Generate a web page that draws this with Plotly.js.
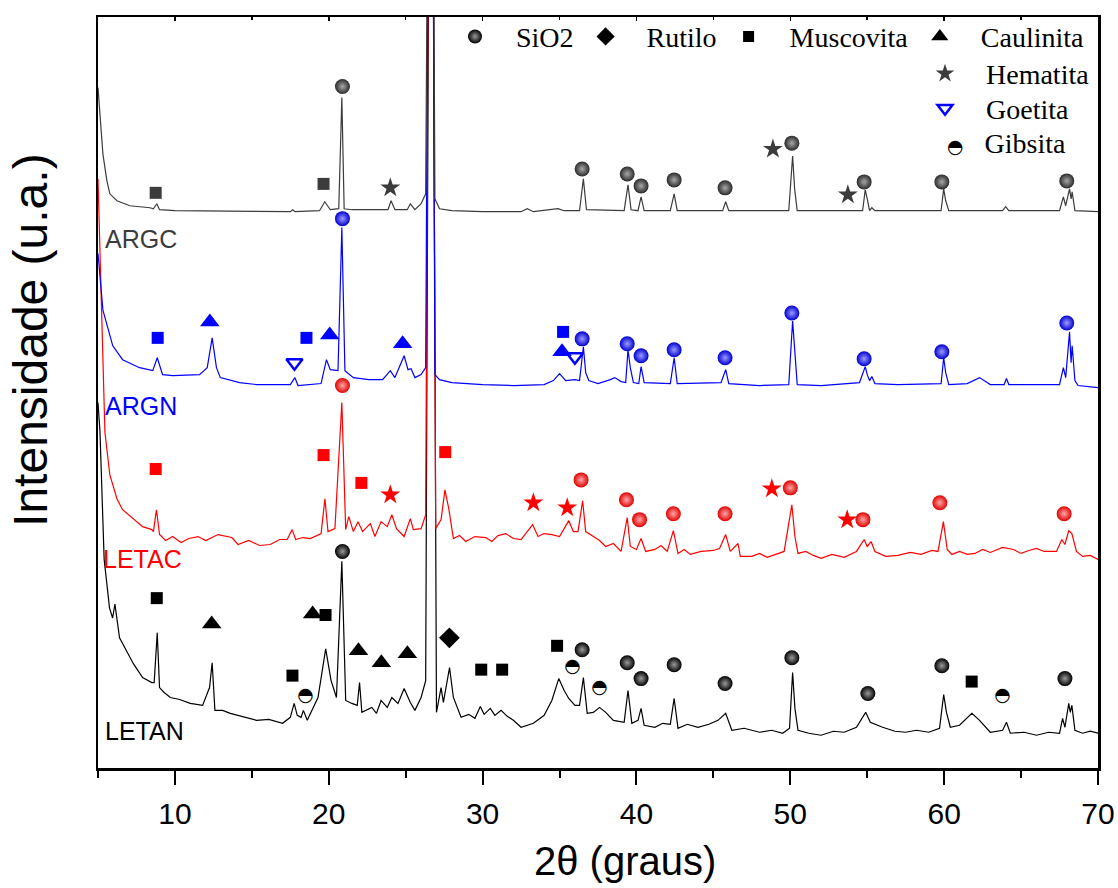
<!DOCTYPE html>
<html><head><meta charset="utf-8">
<script src="https://cdn.plot.ly/plotly-3.0.1.min.js"></script>
<style>html,body{margin:0;padding:0;background:#fff}#chart{width:1118px;height:888px}</style>
</head><body><div id="chart"></div>
<script>
// ---- XRD patterns (2θ in degrees, intensity in arbitrary stacked units) ----
const argcX = [5.0,5.13,5.32,5.58,5.77,6.23,7.07,8.38,8.6,8.82,9.0,10.0,15.0,17.5,17.66,17.8,19.4,19.74,20.1,20.65,20.85,21.0,21.5,23.0,23.85,24.05,24.3,25.1,25.3,25.6,26.0,26.3,26.64,26.9,27.2,28.0,30.0,32.5,32.9,33.3,34.0,34.9,35.3,36.3,36.55,36.75,39.2,39.45,39.65,40.1,40.3,40.5,42.2,42.45,42.65,45.6,45.8,46.0,49.9,50.15,50.28,50.45,54.7,54.87,55.0,55.15,55.3,55.5,59.8,59.97,60.1,60.3,63.8,64.0,64.2,67.5,67.75,67.9,68.15,68.25,68.32,68.5,70.0];
const argcY = [685,658,618,591,578,571,566,564,563,568,562,561,560,560,562,560,561,570,562,563,675,563,562,562,562,571,562,562,568,562,568,578,1400,573,563,561,560,560,563,560,561,563,561,561,593,562,561,587,562,561,575,561,561,578,561,561,570,561,561,616,583,561,561,582,573,561,564,561,561,583,571,561,561,565,561,561,575,566,583,573,580,561,560];

const argnX = [5.0,5.32,5.96,6.6,7.7,8.56,8.85,9.2,9.85,11.6,12.1,12.42,12.7,12.95,14.2,15.3,17.5,17.8,18.0,18.6,19.5,19.85,20.1,20.6,20.85,21.05,21.6,22.6,23.5,24.0,24.3,24.9,25.15,25.35,25.6,26.0,26.3,26.64,26.9,27.2,28.0,30.0,32.0,34.0,34.6,35.0,35.4,36.0,36.3,36.55,36.7,36.9,37.5,38.3,38.6,39.0,39.3,39.45,39.6,39.8,40.15,40.3,40.5,42.2,42.45,42.65,45.5,45.8,46.0,48.0,49.9,50.15,50.3,50.45,52.0,54.5,54.87,55.0,55.15,55.3,55.5,57.0,59.8,59.97,60.1,60.3,61.5,62.3,63.0,63.9,64.05,64.2,67.5,67.75,67.9,68.15,68.25,68.32,68.5,68.7,70.0];
const argnY = [518,461,425,411,403,400,413,396,395,396,403,433,403,393,388,386,386,393,385,386,387,411,401,400,544,400,393,391,391,400,393,415,401,402,393,396,403,1400,396,391,388,386,385,386,390,397,390,391,390,424,398,390,387,391,393,389,388,421,403,388,387,404,388,387,413,387,388,401,387,385,386,450,413,386,385,388,404,396,390,394,387,386,387,413,398,386,387,393,386,386,392,386,386,403,393,439,408,425,390,385,383];

const letacX = [5.0,5.15,5.3,5.45,5.77,6.23,6.6,7.25,7.9,8.5,8.6,8.8,9.0,9.4,9.85,10.4,10.9,11.5,12.0,12.8,13.7,14.1,14.8,15.5,16.2,16.8,17.3,17.62,17.85,18.3,18.8,19.5,19.75,19.95,20.4,20.85,21.1,21.3,21.6,21.9,22.2,22.7,23.0,23.4,23.8,24.1,24.4,24.9,25.3,25.5,26.0,26.3,26.64,26.95,27.3,27.55,27.8,28.1,28.5,28.9,29.5,30.2,30.6,31.0,31.5,32.0,32.5,33.25,33.6,34.0,34.5,35.0,35.6,35.9,36.2,36.5,36.7,37.2,37.6,38.0,38.5,39.0,39.4,39.6,40.0,40.3,40.6,41.2,41.6,42.0,42.4,42.7,43.1,43.5,44.2,45.0,45.4,45.8,46.1,46.6,46.75,47.5,48.0,48.5,49.0,49.6,50.1,50.3,50.5,51.0,51.5,52.0,52.7,53.5,54.3,54.8,55.0,55.25,55.5,56.2,57.0,57.8,58.5,59.2,59.6,59.95,60.2,60.5,61.0,61.5,62.0,62.5,63.0,63.8,64.5,65.0,65.5,66.0,66.5,67.3,67.65,67.85,68.1,68.3,68.6,69.0,69.5,70.0];
const letacY = [593,508,408,338,295,271,260,251,243,240,238,260,235,229,233,227,231,233,229,235,232,225,229,224,225,230,230,240,230,232,231,236,271,238,241,368,240,253,238,248,238,246,233,248,243,255,241,233,251,240,241,255,1400,241,250,280,261,231,234,228,233,232,228,234,236,231,230,245,233,236,235,233,249,238,238,269,238,233,229,223,226,218,252,223,220,231,218,220,224,218,239,216,220,215,218,219,221,235,218,226,213,213,216,212,215,218,265,233,216,218,214,211,215,212,218,230,223,228,218,213,214,217,215,219,218,248,220,215,218,215,216,220,217,222,220,216,219,221,218,218,230,225,239,236,218,213,214,210];

const letanX = [5.0,5.13,5.4,5.75,5.95,6.1,6.4,6.9,7.3,7.9,8.5,8.65,8.85,9.0,9.3,9.7,10.3,11.0,11.8,12.25,12.42,12.6,13.1,13.6,14.3,15.3,16.1,17.0,17.5,17.75,17.95,18.2,18.35,18.6,19.3,19.8,20.15,20.5,20.85,21.1,21.5,21.85,22.0,22.15,22.8,23.1,23.4,23.8,24.1,24.5,24.9,25.3,25.6,26.0,26.3,26.64,27.0,27.3,27.45,27.85,28.1,28.6,29.1,29.5,29.85,30.1,30.5,30.8,31.2,31.6,32.0,32.5,33.3,34.0,34.5,34.95,35.3,35.6,36.0,36.3,36.55,36.8,37.2,37.6,38.0,38.5,39.2,39.45,39.7,40.1,40.3,40.5,41.2,41.7,42.2,42.45,42.7,43.3,44.0,44.7,45.3,45.8,46.2,47.0,48.0,48.8,49.5,49.95,50.15,50.3,50.5,51.2,52.0,52.8,53.5,54.3,54.9,55.2,56.0,56.8,57.5,58.2,59.0,59.7,59.97,60.15,60.4,61.0,61.8,62.3,63.0,63.8,64.05,64.3,65.2,66.0,66.8,67.5,67.7,67.85,68.1,68.2,68.3,68.5,69.0,69.5,70.0];
const letanY = [368,338,210,161,151,165,131,116,105,91,86,86,136,81,76,71,69,65,63,81,106,58,58,55,52,48,49,45,51,65,53,51,58,48,71,120,88,71,208,68,65,63,86,56,61,55,68,61,71,65,80,66,58,71,88,1400,56,81,66,101,71,51,54,50,62,54,60,53,58,52,48,41,45,53,68,90,78,70,63,63,91,55,56,61,56,48,46,78,45,48,60,43,41,45,44,70,40,44,41,44,48,55,38,40,36,38,35,40,96,60,38,35,33,37,36,41,56,46,41,37,36,38,36,40,74,56,41,43,55,48,36,38,46,35,36,33,36,35,50,41,65,56,63,38,35,37,35];

// ---- Phase identification markers ----
const argcSiO2X = [20.89,36.47,39.4,40.3,42.45,45.76,50.1,54.8,59.85,67.97];
const argcSiO2Y = [686,603,598,586,592,584,629,590,590,591];
const argcMuscX = [8.75,19.66];
const argcMuscY = [579,588];
const argcHemX = [24.0,48.87,53.74];
const argcHemY = [584,623,577];

const argnSiO2X = [20.89,36.47,39.4,40.3,42.45,45.76,50.1,54.8,59.85,67.97];
const argnSiO2Y = [553,432,427,415,421,413,458,412,419,448];
const argnMuscX = [8.88,18.55,35.23];
const argnMuscY = [433,433,439];
const argnCaulX = [12.27,20.06,24.8,35.16];
const argnCaulY = [449,436,427,419];
const argnGoetX = [17.77,36.0];
const argnGoetY = [408,414];

const letacSiO2X = [20.89,36.4,39.35,40.2,42.4,45.76,50.0,54.72,59.72,67.8];
const letacSiO2Y = [385,290,270,250,256,256,282,250,267,256];
const letacMuscX = [8.75,19.66,22.12,27.57];
const letacMuscY = [301,315,287,318];
const letacHemX = [24.0,33.3,35.5,48.8,53.7];
const letacHemY = [275,267,262,281,250];

const letanSiO2X = [20.89,36.47,39.4,40.3,42.45,45.76,50.1,55.04,59.85,67.85];
const letanSiO2Y = [218,119,106,90,104,85,111,75,103,90];
const letanMuscX = [8.82,19.79,17.64,29.91,31.27,34.84,61.79];
const letanMuscY = [171,154,93,99,99,123,87];
const letanCaulX = [12.39,18.95,21.93,23.42,25.11];
const letanCaulY = [145,155,118,106,115];
const letanRutX = [27.84];
const letanRutY = [131];
const letanGibX = [18.49,35.84,37.6,63.8];
const letanGibY = [72,101,80,72];

// ---- Labels ----
const sampleNames = ['ARGC','ARGN','LETAC','LETAN'];
const sampleColors = ['#3c3c3c','#0000ff','#ff0000','#000000'];
const sampleLabelX = [5.3,5.3,5.2,5.3];
const sampleLabelY = [533,364,210,37];
const legendNames = ['SiO2','Rutilo','Muscovita','Caulinita','Hematita','Goetita','Gibsita'];
const xTickVals = [10,20,30,40,50,60,70];
const xTitle = '2θ (graus)';
const yTitle = 'Intensidade (u.a.)';
const gibGlyph = '\u25D3';

const NB = '\u00a0';
const traces = [];
const patX = [letanX, letacX, argnX, argcX];
const patY = [letanY, letacY, argnY, argcY];
const patC = ['#000000','#ff0000','#0000ff','#3c3c3c'];
for (let i = 0; i < 4; i++) {
  traces.push({x: patX[i], y: patY[i], type:'scatter', mode:'lines', line:{color:patC[i], width:1.2}, showlegend:false, hoverinfo:'skip'});
}

// sphere look: dark edge (marker colour) with a light centre (gradient colour)
const sphere = {
  '#3c3c3c': ['#2a2a2a','#a8a8a8'],
  '#0000ff': ['#0000d0','#9a9aff'],
  '#ff0000': ['#e00000','#ffa8a8'],
  '#000000': ['#000000','#9a9a9a']
};
function sio2(x, y, c) {
  traces.push({x:x, y:y, type:'scatter', mode:'markers', showlegend:false, hoverinfo:'skip', cliponaxis:false,
    marker:{symbol:'circle', size:15, color:sphere[c][0], gradient:{type:'radial', color:sphere[c][1]}, line:{width:0}}});
}
function mk(x, y, c, sym, size, lw) {
  const m = {symbol:sym, size:size, color:c, line:{width:lw||0, color:c}};
  traces.push({x:x, y:y, type:'scatter', mode:'markers', showlegend:false, hoverinfo:'skip', cliponaxis:false, marker:m});
}
function gib(x, y) {
  traces.push({x:x, y:y, type:'scatter', mode:'text', text:x.map(() => gibGlyph), textposition:'middle center',
    textfont:{family:'DejaVu Sans', size:19, color:'#000'}, showlegend:false, hoverinfo:'skip', cliponaxis:false});
}

sio2(argcSiO2X, argcSiO2Y, '#3c3c3c');
mk(argcMuscX, argcMuscY, '#3c3c3c', 'square', 12);
mk(argcHemX, argcHemY, '#3c3c3c', 'star', 15);

sio2(argnSiO2X, argnSiO2Y, '#0000ff');
mk(argnMuscX, argnMuscY, '#0000ff', 'square', 12);
mk(argnCaulX, argnCaulY, '#0000ff', 'triangle-up', 17);
mk(argnGoetX, argnGoetY, '#0000ff', 'triangle-down-open', 14, 2.5);

sio2(letacSiO2X, letacSiO2Y, '#ff0000');
mk(letacMuscX, letacMuscY, '#ff0000', 'square', 12);
mk(letacHemX, letacHemY, '#ff0000', 'star', 15);

sio2(letanSiO2X, letanSiO2Y, '#000000');
mk(letanMuscX, letanMuscY, '#000000', 'square', 12);
mk(letanCaulX, letanCaulY, '#000000', 'triangle-up', 17);
mk(letanRutX, letanRutY, '#000000', 'diamond', 16);
gib(letanGibX, letanGibY);

// legend entries
function leg(name, marker, legendId) {
  traces.push({x:[null], y:[null], type:'scatter', mode:'markers', name:NB+NB+NB+name+NB, marker:marker, legend:legendId, hoverinfo:'skip'});
}
leg(legendNames[0], {symbol:'circle', size:14, color:'#000', gradient:{type:'radial', color:'#9a9a9a'}, line:{width:0}}, 'legend');
leg(legendNames[1], {symbol:'diamond', size:14, color:'#000'}, 'legend');
leg(legendNames[2], {symbol:'square', size:11, color:'#000'}, 'legend');
leg(legendNames[3], {symbol:'triangle-up', size:15, color:'#000'}, 'legend');
leg(legendNames[4], {symbol:'star', size:14, color:'#3c3c3c'}, 'legend2');
leg(legendNames[5], {symbol:'triangle-down-open', size:13, color:'#0000ff', line:{width:2.5, color:'#0000ff'}}, 'legend3');
traces.push({x:[null], y:[null], type:'scatter', mode:'markers', legend:'legend4', hoverinfo:'skip',
  marker:{size:1, color:'rgba(0,0,0,0)'},
  name:'<span style="font-family:DejaVu Sans;font-size:19px">' + gibGlyph + '</span>' + NB+NB+NB + legendNames[6]});

// top axis helper trace
traces.push({x:[null], y:[null], xaxis:'x2', yaxis:'y', type:'scatter', mode:'markers', showlegend:false, hoverinfo:'skip'});

const annotations = sampleNames.map((n, i) => ({
  x: sampleLabelX[i], y: sampleLabelY[i], xref:'x', yref:'y', text:n, showarrow:false,
  xanchor:'left', yanchor:'middle', font:{family:'Liberation Sans, Arial, sans-serif', size:25, color:sampleColors[i]}
}));
annotations.push({x:0.527, y:-0.124, xref:'paper', yref:'paper', text:xTitle, showarrow:false, xanchor:'center', yanchor:'middle',
  font:{family:'Liberation Sans, Arial, sans-serif', size:40, color:'#000'}});
annotations.push({x:-0.067, y:0.57, xref:'paper', yref:'paper', text:yTitle, showarrow:false, textangle:-90, xanchor:'center', yanchor:'middle',
  font:{family:'Liberation Sans, Arial, sans-serif', size:48, color:'#000'}});

const axisFont = {family:'Liberation Sans, Arial, sans-serif', color:'#000'};
const legFont = {family:'Liberation Serif, Times New Roman, serif', size:28, color:'#000'};
function vleg(x, y) { return {orientation:'v', x:x, xanchor:'left', y:y, yanchor:'top', bgcolor:'rgba(0,0,0,0)', font:legFont}; }
const layout = {
  width:1118, height:888,
  margin:{l:98, r:20, t:12, b:120},
  paper_bgcolor:'#fff', plot_bgcolor:'#fff',
  showlegend:true,
  xaxis:{
    range:[5,70], tickvals:xTickVals, ticks:'outside', ticklen:14, tickwidth:2, tickcolor:'#000', ticklabelstandoff:3,
    minor:{dtick:5, tick0:0, ticks:'outside', ticklen:7, tickwidth:2, tickcolor:'#000', showgrid:false},
    showgrid:false, zeroline:false, showline:true, linewidth:2.5, linecolor:'#000', mirror:true,
    tickfont:Object.assign({size:30}, axisFont)
  },
  xaxis2:{
    range:[5,70], overlaying:'x', side:'top', tickvals:xTickVals, ticks:'inside', ticklen:4, tickwidth:1.5, tickcolor:'#000',
    minor:{dtick:5, tick0:0, ticks:'inside', ticklen:3, tickwidth:1.5, tickcolor:'#000'},
    showticklabels:false, showgrid:false, zeroline:false, showline:false
  },
  yaxis:{
    range:[0,756], showticklabels:false, ticks:'', showgrid:false, zeroline:false,
    showline:true, linewidth:2.5, linecolor:'#000', mirror:true
  },
  legend:{orientation:'h', x:0.357, xanchor:'left', y:1.007, yanchor:'top', bgcolor:'rgba(0,0,0,0)', font:legFont, traceorder:'normal'},
  legend2:vleg(0.827, 0.9577),
  legend3:vleg(0.827, 0.9114),
  legend4:vleg(0.809, 0.8668),
  annotations:annotations
};
Plotly.newPlot('chart', traces, layout, {displayModeBar:false, staticPlot:true});
</script></body></html>
